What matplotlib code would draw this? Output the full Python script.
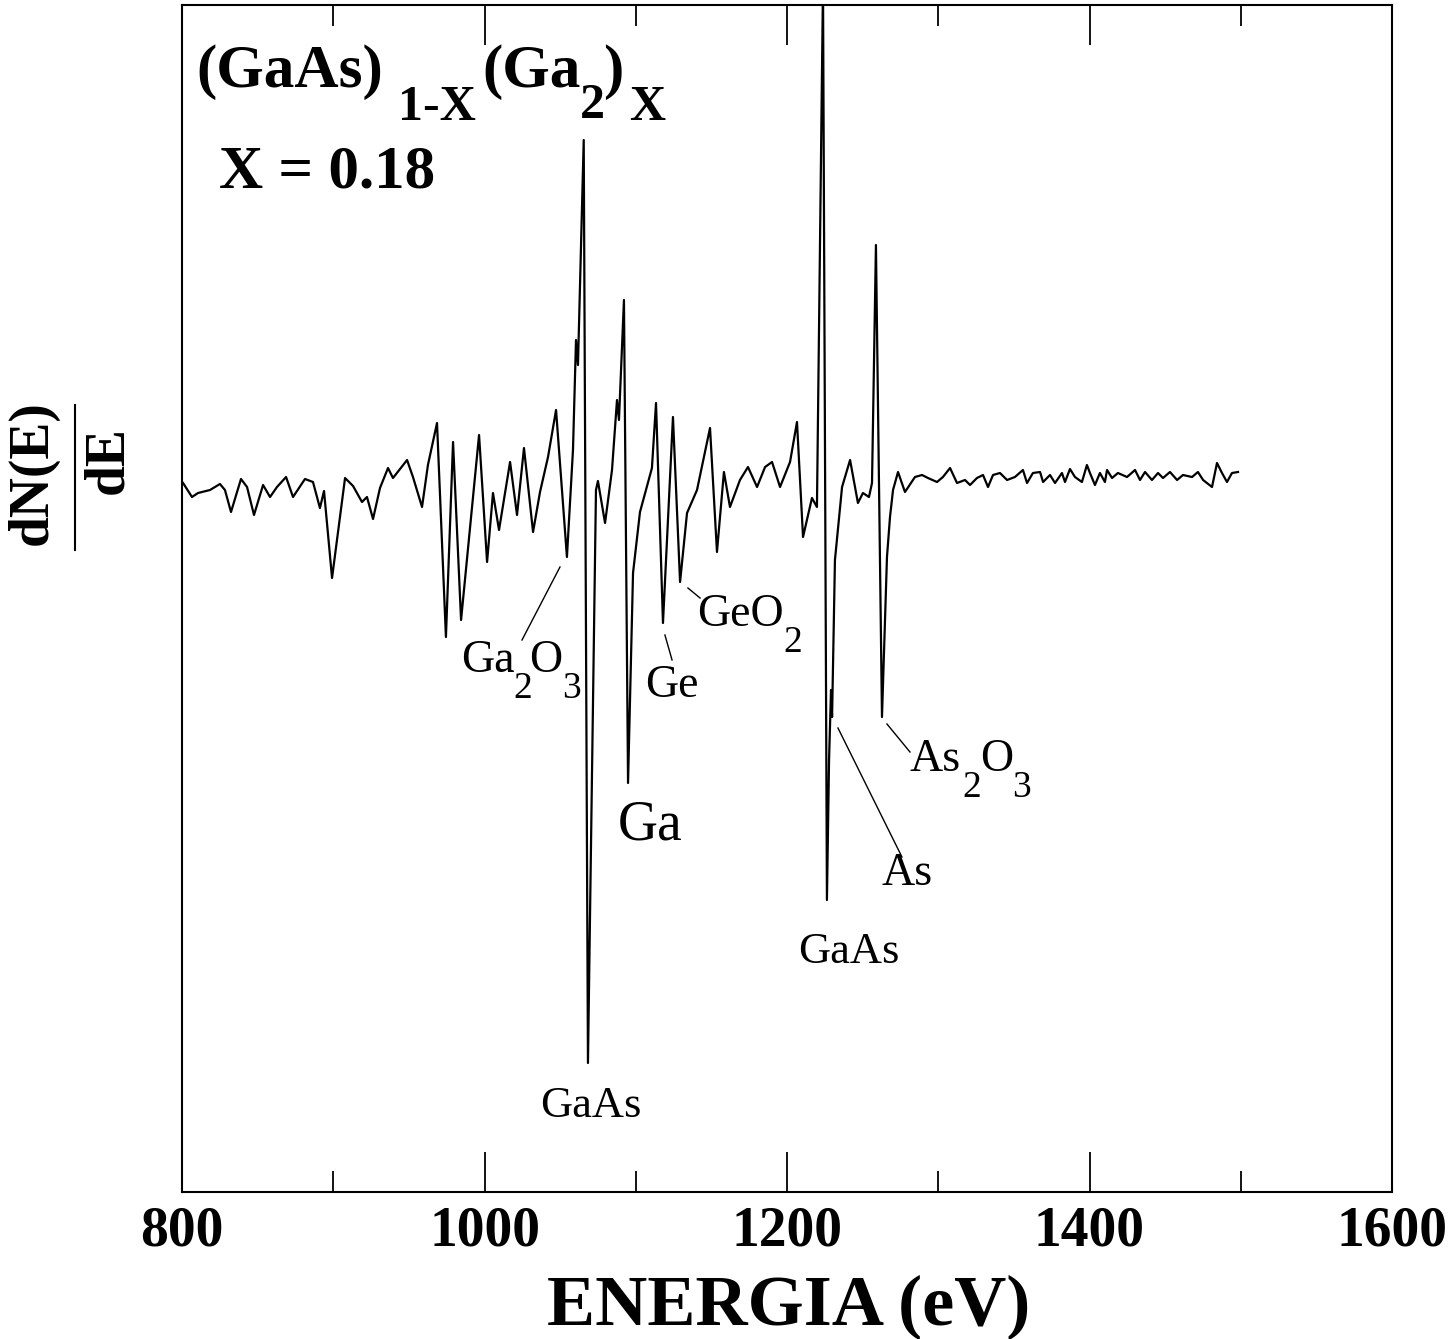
import matplotlib.pyplot as plt

# Auger spectrum dN(E)/dE, energy in eV, amplitude in arbitrary units
energy = [
    800.7, 806.6, 810.6, 818.5, 825.1, 828.4, 832.4, 839.0, 843.0, 847.6,
    853.6, 858.2, 862.8, 868.8, 873.4, 881.3, 886.6, 891.2, 893.9, 899.2,
    907.8, 913.1, 919.0, 922.3, 926.3, 930.9, 936.2, 939.5, 948.8, 952.7,
    958.7, 962.6, 968.6, 974.5, 979.2, 984.5, 996.4, 1001.7, 1005.6, 1009.6,
    1016.9, 1021.5, 1026.1, 1032.1, 1036.7, 1042.0, 1047.3, 1054.5, 1058.5, 1060.5,
    1061.8, 1065.6, 1068.4, 1073.7, 1075.0, 1079.7, 1084.3, 1087.6, 1088.9, 1092.2,
    1094.9, 1098.2, 1102.8, 1110.7, 1113.4, 1118.0, 1124.6, 1129.3, 1133.9, 1140.5,
    1149.1, 1153.7, 1158.3, 1162.3, 1168.9, 1174.2, 1180.2, 1185.5, 1190.1, 1195.4,
    1202.0, 1206.6, 1210.6, 1216.5, 1219.8, 1223.8, 1226.4, 1227.8, 1229.1, 1229.8,
    1231.7, 1236.4, 1241.7, 1246.9, 1250.2, 1254.2, 1256.2, 1258.8, 1262.8, 1266.1,
    1268.1, 1270.1, 1273.4, 1278.0, 1284.6, 1289.3, 1293.2, 1299.2, 1303.1, 1307.8,
    1312.4, 1317.7, 1321.0, 1325.6, 1329.6, 1332.9, 1336.2, 1340.8, 1345.5, 1350.7,
    1356.0, 1358.7, 1362.6, 1367.3, 1369.3, 1373.9, 1377.2, 1381.8, 1383.8, 1387.1,
    1390.4, 1395.0, 1398.3, 1400.3, 1403.6, 1406.9, 1410.2, 1411.6, 1414.9, 1418.8,
    1424.8, 1430.1, 1433.4, 1436.7, 1441.3, 1445.3, 1448.6, 1453.2, 1457.9, 1461.8,
    1467.8, 1471.7, 1475.1, 1481.0, 1484.3, 1487.6, 1490.9, 1494.2, 1498.2,
]
dnde = [
    0.2, -1.2, -0.8, -0.5, 0.1, -0.5, -2.7, 0.6, -0.2, -3.0,
    0.0, -1.2, -0.2, 0.8, -1.2, 0.6, 0.3, -2.3, -0.6, -9.3,
    0.7, -0.1, -1.7, -1.2, -3.4, -0.3, 1.7, 0.7, 2.5, 0.8,
    -2.2, 2.0, 6.2, -15.2, 4.3, -13.5, 5.0, -7.7, -0.8, -4.5,
    2.3, -3.0, 3.7, -4.7, -0.7, 2.8, 7.5, -7.2, 3.5, 14.5,
    12.0, 34.5, -57.8, -0.5, 0.4, -3.8, 1.5, 8.5, 6.5, 18.5,
    -29.8, -8.8, -2.7, 1.7, 8.2, -13.8, 6.8, -9.7, -2.8, -0.5,
    5.7, -6.7, 1.3, -2.2, 0.5, 1.8, -0.2, 1.8, 2.3, -0.2,
    2.3, 6.3, -5.2, -1.3, -2.2, 50.0, -41.5, -27.5, -20.5, -23.2,
    -7.5, -0.2, 2.5, -1.8, -0.8, -1.2, 0.2, 24.0, -23.2, -7.2,
    -3.2, -0.5, 1.3, -0.7, 0.8, 1.0, 0.7, 0.3, 0.8, 1.7,
    0.2, 0.5, 0.0, 0.7, 1.0, -0.2, 1.0, 1.2, 0.5, 0.8,
    1.5, 0.2, 1.2, 1.3, 0.3, 1.0, 0.2, 1.2, 0.3, 1.6,
    0.8, 0.3, 2.0, 1.2, 0.0, 1.2, 0.3, 1.5, 0.7, 1.2,
    0.8, 1.5, 0.5, 1.3, 0.5, 1.2, 0.7, 1.3, 0.5, 1.0,
    0.8, 1.3, 0.5, -0.2, 2.2, 1.2, 0.3, 1.2, 1.3,
]

x_major = [800, 1000, 1200, 1400, 1600]
x_minor = [900, 1100, 1300, 1500]

# leader lines for the peak labels: (E0, A0, E1, A1)
leaders = [
    (1049.9, -8.2, 1024.8, -15.5),   # Ga2O3
    (1119.3, -15.0, 1124.0, -17.5),  # Ge
    (1134.5, -10.3, 1142.5, -11.3),  # GeO2
    (1233.7, -24.3, 1276.0, -37.2),  # As
    (1266.1, -23.9, 1281.3, -26.7),  # As2O3
]

plt.rcParams['font.family'] = ['Liberation Serif', 'DejaVu Serif']

W, H = 1452, 1339
fig = plt.figure(figsize=(W / 100, H / 100), dpi=100)
ax = fig.add_axes([182 / W, 1 - 1192 / H, 1210 / W, 1187 / H])

ax.plot(energy, dnde, color='black', lw=1.6)
for e0, a0, e1, a1 in leaders:
    ax.plot([e0, e1], [a0, a1], color='black', lw=1.0)

ax.set_xlim(800, 1600)
ax.set_ylim(-70.7, 48)
ax.set_xticks(x_major)
ax.set_xticks(x_minor, minor=True)
ax.set_yticks([])
ax.tick_params(axis='x', which='both', direction='in', top=True, width=1.3, pad=10)
ax.tick_params(axis='x', which='major', length=29, labelsize=40)
ax.tick_params(axis='x', which='minor', length=15)
for lbl in ax.get_xticklabels():
    lbl.set_fontweight('bold')
for sp in ax.spines.values():
    sp.set_linewidth(1.5)


def put(s, x, y, size, bold=False, **kw):
    # place text by pixel position (x left, y baseline) in the figure
    fig.text(x / W, 1 - y / H, s, fontsize=size,
             fontweight='bold' if bold else 'normal',
             ha=kw.get('ha', 'left'), va='baseline', rotation=kw.get('rotation', 0))


# compound formula
put('(GaAs)', 196, 87, 44, True)
put('1-X', 398, 120, 36, True)
put('(Ga', 482, 87, 44, True)
put('2', 580, 118, 36, True)
put(')', 603, 87, 44, True)
put('X', 629, 120, 36, True)
put('X = 0.18', 219, 187, 44, True)

# peak labels
put('Ga', 461, 672, 33)
put('2', 513, 698, 27)
put('O', 529, 672, 33)
put('3', 562, 698, 27)
put('Ge', 645, 697, 33)
put('GeO', 697, 626, 33)
put('2', 783, 652, 27)
put('Ga', 618, 840, 40)
put('GaAs', 540, 1117, 32)
put('GaAs', 798, 963, 32)
put('As', 882, 885, 33)
put('As', 910, 771, 33)
put('2', 962, 797, 27)
put('O', 980, 771, 33)
put('3', 1012, 797, 27)

# axis labels
put('ENERGIA (eV)', 789, 1325, 52, True, ha='center')
fig.text(33 / W, 1 - 473 / H, 'dN(E)', fontsize=40, fontweight='bold',
         rotation=90, ha='center', va='center')
fig.text(108 / W, 1 - 460 / H, 'dE', fontsize=40, fontweight='bold',
         rotation=90, ha='center', va='center')
fig.add_artist(plt.Line2D([75 / W, 75 / W], [1 - 405 / H, 1 - 550 / H],
                          color='black', lw=1.5))

fig.savefig('out.png', dpi=100)
